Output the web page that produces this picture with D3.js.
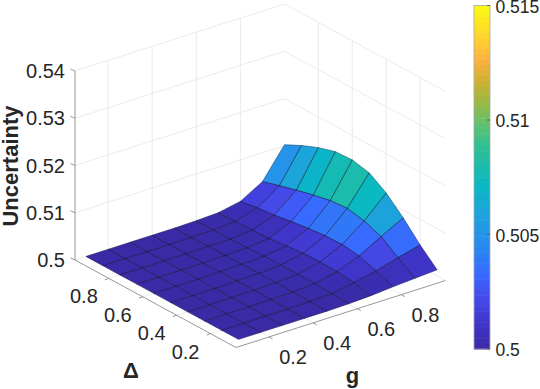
<!DOCTYPE html>
<html>
<head>
<meta charset="utf-8">
<script src="https://cdn.jsdelivr.net/npm/d3@7"></script>
<style>
html, body { margin: 0; padding: 0; background: #fff; }
svg { display: block; }
text { font-family: "Liberation Sans", Arial, sans-serif; fill: #262626; }
</style>
</head>
<body>
<svg id="chart"></svg>
<script>
const width = 540;
const height = 389;

// data
const gValues = [0.1, 0.2, 0.3, 0.4, 0.5, 0.6, 0.7, 0.8, 0.9, 1.0];
const deltaValues = [0.1, 0.2, 0.3, 0.4, 0.5, 0.6, 0.7, 0.8, 0.9, 1.0];
// one row per g value, one column per delta value
const uncertainty = [
    [0.5000, 0.5000, 0.5000, 0.5000, 0.5000, 0.5000, 0.5000, 0.5000, 0.5000, 0.5000],
    [0.5000, 0.5000, 0.5000, 0.5000, 0.5000, 0.5000, 0.5000, 0.5000, 0.5000, 0.5000],
    [0.5000, 0.5000, 0.5000, 0.5000, 0.5000, 0.5000, 0.5000, 0.5000, 0.5000, 0.5000],
    [0.5000, 0.5000, 0.5001, 0.5001, 0.5001, 0.5001, 0.5000, 0.5000, 0.5000, 0.5000],
    [0.5000, 0.5001, 0.5002, 0.5002, 0.5002, 0.5002, 0.5001, 0.5001, 0.5000, 0.5000],
    [0.5001, 0.5003, 0.5005, 0.5005, 0.5005, 0.5004, 0.5002, 0.5001, 0.5001, 0.5001],
    [0.5003, 0.5011, 0.5015, 0.5016, 0.5015, 0.5011, 0.5007, 0.5005, 0.5004, 0.5003],
    [0.5007, 0.5021, 0.5033, 0.5038, 0.5037, 0.5033, 0.5028, 0.5022, 0.5018, 0.5012],
    [0.5010, 0.5034, 0.5059, 0.5073, 0.5080, 0.5077, 0.5069, 0.5060, 0.5050, 0.5039],
    [0.5013, 0.5046, 0.5084, 0.5117, 0.5140, 0.5148, 0.5146, 0.5135, 0.5120, 0.5102]
];
const gTicks = [0.2, 0.4, 0.6, 0.8];
const deltaTicks = [0.2, 0.4, 0.6, 0.8];
const zTicks = [0.5, 0.51, 0.52, 0.53, 0.54];
const colorTicks = [0.5, 0.505, 0.51, 0.515];
// colormap
const colorStops = [0, 0.09, 0.166, 0.215, 0.294, 0.381, 0.477, 0.594, 0.652, 0.725, 0.783, 0.841, 0.9, 1];
const colorValues = ["#3a2aa6", "#4038d0", "#4450f0", "#3868ff", "#2888f0", "#20a0e0", "#08b8c4",
    "#30c090", "#60c070", "#a0b840", "#d0b030", "#fdb040", "#ffd030", "#fafa10"];

const svg = d3.select("#chart")
    .attr("width", width)
    .attr("height", height)
    .attr("viewBox", `0 0 ${width} ${height}`);

// box corners on the floor of the plot
const origin = [236, 347.5];
const gVec = [209.5, -67];
const deltaVec = [-161, -87.5];

const gScale = d3.scaleLinear().domain([0.05, 1]).range([0, 1]);
const deltaScale = d3.scaleLinear().domain([0.05, 1]).range([0, 1]);
const zScale = d3.scaleLinear().domain([0.5, 0.54]).range([0, -189]);

function project(g, delta, z) {
    const a = gScale(g), b = deltaScale(delta);
    return [
        origin[0] + a * gVec[0] + b * deltaVec[0],
        origin[1] + a * gVec[1] + b * deltaVec[1] + zScale(z)
    ];
}

const color = d3.scaleLinear()
    .domain(colorStops.map(t => 0.5 + 0.015 * t))
    .range(colorValues)
    .clamp(true);

const gMin = 0.05, gMax = 1, dMin = 0.05, dMax = 1, zMin = 0.5, zMax = 0.54;
const line = d3.line();

// grid on the walls and floor
const gridLines = [];
zTicks.forEach(z => {
    gridLines.push([project(gMin, dMax, z), project(gMax, dMax, z)]);
    gridLines.push([project(gMax, dMax, z), project(gMax, dMin, z)]);
});
gTicks.forEach(g => {
    gridLines.push([project(g, dMax, zMin), project(g, dMax, zMax)]);
    gridLines.push([project(g, dMin, zMin), project(g, dMax, zMin)]);
});
deltaTicks.forEach(d => {
    gridLines.push([project(gMax, d, zMin), project(gMax, d, zMax)]);
    gridLines.push([project(gMin, d, zMin), project(gMax, d, zMin)]);
});

svg.append("g").selectAll("path")
    .data(gridLines)
    .enter().append("path")
    .attr("d", d => line(d))
    .attr("fill", "none")
    .attr("stroke", "#e6e6e6")
    .attr("stroke-width", 0.8);

// axis lines
const axisLines = [
    [project(gMin, dMax, zMin), project(gMin, dMax, zMax)],
    [project(gMin, dMax, zMin), project(gMin, dMin, zMin)],
    [project(gMin, dMin, zMin), project(gMax, dMin, zMin)]
];
zTicks.forEach(z => {
    const p = project(gMin, dMax, z);
    axisLines.push([p, [p[0] - 4.5, p[1] - 2]]);
});
gTicks.forEach(g => {
    const p = project(g, dMin, zMin);
    axisLines.push([p, [p[0] + 3.5, p[1] + 2]]);
});
deltaTicks.forEach(d => {
    const p = project(gMin, d, zMin);
    axisLines.push([p, [p[0] - 4, p[1] + 1.3]]);
});

svg.append("g").selectAll("path")
    .data(axisLines)
    .enter().append("path")
    .attr("d", d => line(d))
    .attr("fill", "none")
    .attr("stroke", "#8c8c8c")
    .attr("stroke-width", 0.9);

// surface cells, far corner first. flat colour comes from the low index corner
const cells = [];
for (let i = gValues.length - 2; i >= 0; i--) {
    for (let j = deltaValues.length - 2; j >= 0; j--) {
        cells.push({ i, j });
    }
}

const cellPath = ({ i, j }) => line([
    project(gValues[i], deltaValues[j], uncertainty[i][j]),
    project(gValues[i + 1], deltaValues[j], uncertainty[i + 1][j]),
    project(gValues[i + 1], deltaValues[j + 1], uncertainty[i + 1][j + 1]),
    project(gValues[i], deltaValues[j + 1], uncertainty[i][j + 1])
]) + "Z";

svg.append("g").selectAll("path")
    .data(cells)
    .enter().append("path")
    .attr("d", cellPath)
    .attr("fill", ({ i, j }) => color(uncertainty[i][j]))
    .attr("stroke", ({ i, j }) => color(uncertainty[i][j]))
    .attr("stroke-width", 0.4);

svg.append("g").selectAll("path")
    .data(cells)
    .enter().append("path")
    .attr("d", cellPath)
    .attr("fill", "none")
    .attr("stroke", "#15152a")
    .attr("stroke-opacity", 0.7)
    .attr("stroke-width", 0.5)
    .attr("stroke-linejoin", "round");

// tick labels
const labelSize = 20;

svg.append("g").selectAll("text")
    .data(zTicks)
    .enter().append("text")
    .attr("x", 65)
    .attr("y", d => project(gMin, dMax, d)[1] + 7)
    .attr("text-anchor", "end")
    .attr("font-size", labelSize)
    .text(d => d3.format("~g")(d));

svg.append("g").selectAll("text")
    .data(gTicks)
    .enter().append("text")
    .attr("x", d => project(d, dMin, zMin)[0] + 24)
    .attr("y", d => project(d, dMin, zMin)[1] + 27)
    .attr("text-anchor", "middle")
    .attr("font-size", labelSize)
    .text(d => d3.format(".1f")(d));

svg.append("g").selectAll("text")
    .data(deltaTicks)
    .enter().append("text")
    .attr("x", d => project(gMin, d, zMin)[0] - 25)
    .attr("y", d => project(gMin, d, zMin)[1] + 25)
    .attr("text-anchor", "middle")
    .attr("font-size", labelSize)
    .text(d => d3.format(".1f")(d));

// axis titles
svg.append("text")
    .attr("transform", "translate(17.5,166) rotate(-90)")
    .attr("text-anchor", "middle")
    .attr("font-size", 22)
    .attr("font-weight", "bold")
    .text("Uncertainty");

svg.append("text")
    .attr("x", 131)
    .attr("y", 378)
    .attr("text-anchor", "middle")
    .attr("font-size", 22)
    .attr("font-weight", "bold")
    .text("Δ");

svg.append("text")
    .attr("x", 352.5)
    .attr("y", 383)
    .attr("text-anchor", "middle")
    .attr("font-size", 22)
    .attr("font-weight", "bold")
    .text("g");

// colorbar
const barX = 474, barW = 16;
const barScale = d3.scaleLinear().domain([0.5, 0.515]).range([349, 5.5]);
const barSteps = d3.range(0, 64);
const stepH = (barScale(0.5) - barScale(0.515)) / barSteps.length;

svg.append("g").selectAll("rect")
    .data(barSteps)
    .enter().append("rect")
    .attr("x", barX)
    .attr("y", d => barScale(0.5 + 0.015 * (d + 1) / barSteps.length))
    .attr("width", barW)
    .attr("height", stepH + 0.5)
    .attr("fill", d => color(0.5 + 0.015 * (d + 0.5) / barSteps.length));

svg.append("rect")
    .attr("x", barX)
    .attr("y", barScale(0.515))
    .attr("width", barW)
    .attr("height", barScale(0.5) - barScale(0.515))
    .attr("fill", "none")
    .attr("stroke", "#a8a8a8")
    .attr("stroke-width", 0.8);

svg.append("g").selectAll("path")
    .data(colorTicks)
    .enter().append("path")
    .attr("d", d => `M${barX + barW},${barScale(d)}h-3`)
    .attr("stroke", "#555")
    .attr("stroke-width", 0.8);

svg.append("g").selectAll("text")
    .data(colorTicks)
    .enter().append("text")
    .attr("x", 495.5)
    .attr("y", d => barScale(d) + 7)
    .attr("font-size", 17.5)
    .text(d => d3.format("~g")(d));
</script>
</body>
</html>
